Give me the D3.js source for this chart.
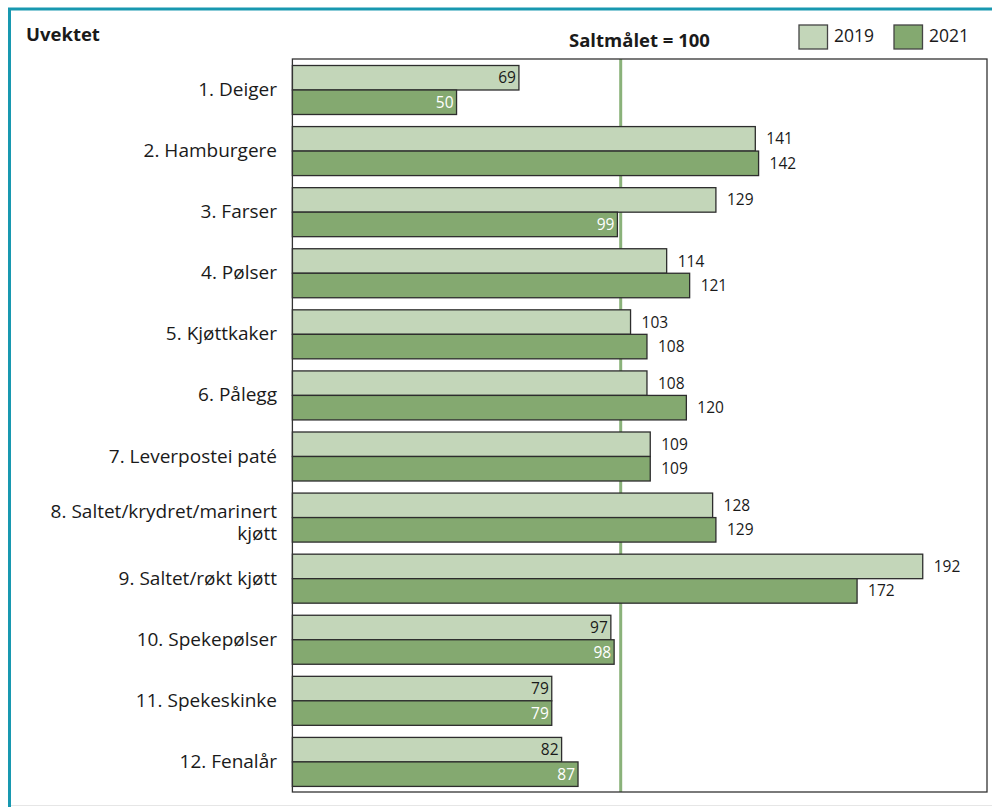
<!DOCTYPE html>
<html>
<head>
<meta charset="utf-8">
<script src="https://cdn.jsdelivr.net/npm/d3@7"></script>
<style>
  html, body { margin: 0; padding: 0; background: #ffffff; }
  svg { display: block; }
  text { font-family: "Open Sans", Lato, sans-serif; }
</style>
</head>
<body>
<script>
const categories = [
  "1. Deiger",
  "2. Hamburgere",
  "3. Farser",
  "4. Pølser",
  "5. Kjøttkaker",
  "6. Pålegg",
  "7. Leverpostei paté",
  "8. Saltet/krydret/marinert|kjøtt",
  "9. Saltet/røkt kjøtt",
  "10. Spekepølser",
  "11. Spekeskinke",
  "12. Fenalår"
];
const seriesNames = ["2019", "2021"];
const values2019 = [69, 141, 129, 114, 103, 108, 109, 128, 192, 97, 79, 82];
const values2021 = [50, 142, 99, 121, 108, 120, 109, 129, 172, 98, 79, 87];
const targetValue = 100;
const targetLabel = "Saltmålet = 100";
const title = "Uvektet";

const W = 992, H = 807;
const colors = { "2019": "#c3d6b9", "2021": "#84a970" };
const strokeCol = "#2d2d2d";

const svg = d3.select("body").append("svg").attr("width", W).attr("height", H);

// outer teal frame
svg.append("rect").attr("x", 0).attr("y", 0).attr("width", W).attr("height", H).attr("fill", "#ffffff");
svg.append("line").attr("x1", 8).attr("x2", W).attr("y1", 9).attr("y2", 9)
  .attr("stroke", "#1898b0").attr("stroke-width", 3);
svg.append("line").attr("x1", 9.5).attr("x2", 9.5).attr("y1", 8).attr("y2", H)
  .attr("stroke", "#1898b0").attr("stroke-width", 3);
svg.append("line").attr("x1", 11).attr("x2", W).attr("y1", 805.5).attr("y2", 805.5)
  .attr("stroke", "#e6e6e6").attr("stroke-width", 1);

const plot = { left: 292.4, right: 987, top: 59, bottom: 792 };

const x = d3.scaleLinear().domain([0, 211.5]).range([plot.left, plot.left + 211.5 * 3.283]);
const y = d3.scaleBand().domain(categories).range([plot.top, plot.bottom]).padding(0);
const ySub = d3.scaleBand().domain(seriesNames).range([6.5, 55.5]).padding(0);

// target line (behind bars)
svg.append("line")
  .attr("x1", x(targetValue)).attr("x2", x(targetValue))
  .attr("y1", plot.top).attr("y2", plot.bottom)
  .attr("stroke", "#8ab27a").attr("stroke-width", 3);

const data = categories.map((c, i) => ({ cat: c, vals: [
  { s: "2019", v: values2019[i] }, { s: "2021", v: values2021[i] }
]}));

const groups = svg.append("g").selectAll("g").data(data).join("g")
  .attr("transform", d => `translate(0,${y(d.cat)})`);

groups.selectAll("rect").data(d => d.vals).join("rect")
  .attr("x", x(0))
  .attr("y", d => ySub(d.s))
  .attr("width", d => x(d.v) - x(0))
  .attr("height", ySub.bandwidth())
  .attr("fill", d => colors[d.s])
  .attr("stroke", strokeCol)
  .attr("stroke-width", 1.3);

groups.selectAll("text.val").data(d => d.vals).join("text")
  .attr("class", "val")
  .attr("x", d => d.v < targetValue ? x(d.v) - 3 : x(d.v) + 11)
  .attr("y", d => ySub(d.s) + ySub.bandwidth() / 2)
  .attr("dy", "0.36em")
  .attr("text-anchor", d => d.v < targetValue ? "end" : "start")
  .attr("font-size", 15.5)
  .attr("fill", d => (d.v < targetValue && d.s === "2021") ? "#ffffff" : "#1a1a1a")
  .text(d => d.v);

// plot frame
svg.append("rect")
  .attr("x", plot.left).attr("y", plot.top)
  .attr("width", plot.right - plot.left).attr("height", plot.bottom - plot.top)
  .attr("fill", "none").attr("stroke", "#333").attr("stroke-width", 1.3);

// category labels
const catLabels = svg.append("g").selectAll("text").data(categories).join("text")
  .attr("x", 277)
  .attr("y", d => y(d) + y.bandwidth() / 2)
  .attr("text-anchor", "end")
  .attr("font-size", 19)
  .attr("fill", "#1a1a1a");
catLabels.each(function(d) {
  const parts = d.split("|");
  const t = d3.select(this);
  const lh = 22;
  const start = parts.length > 1 ? -6 : 0;
  parts.forEach((p, k) => {
    t.append("tspan").attr("x", 277).attr("dy", k === 0 ? (start + 6.5) : lh).text(p);
  });
});

// title
svg.append("text").attr("x", 26).attr("y", 41)
  .attr("font-size", 18.5).attr("font-weight", "bold").attr("fill", "#1a1a1a").text(title);

// target label
svg.append("text").attr("x", 569).attr("y", 47)
  .attr("font-size", 18.5).attr("font-weight", "bold").attr("fill", "#1a1a1a").text(targetLabel);

// legend
const legX = [799, 894];
seriesNames.forEach((s, i) => {
  svg.append("rect").attr("x", legX[i]).attr("y", 25).attr("width", 28.5).attr("height", 24)
    .attr("fill", colors[s]).attr("stroke", "#444").attr("stroke-width", 1.3);
  svg.append("text").attr("x", legX[i] + 35).attr("y", 42)
    .attr("font-size", 17.5).attr("fill", "#1a1a1a").text(s);
});
</script>
</body>
</html>
